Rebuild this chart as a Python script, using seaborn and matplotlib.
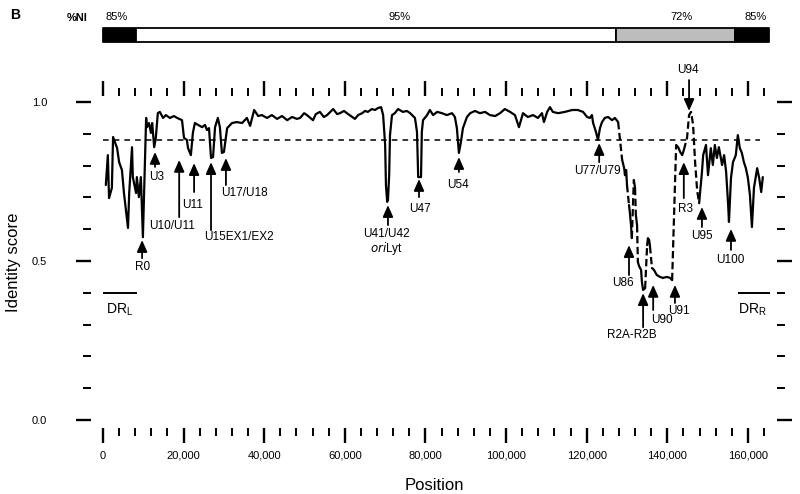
import matplotlib
matplotlib.use("Agg")
import matplotlib.pyplot as plt
import seaborn as sns
import pandas as pd
from matplotlib.ticker import MultipleLocator

# identity score along the genome
position = [
    700, 1200, 1500, 2200, 2500, 3500, 4000, 4700, 5200, 5700, 6200, 6500, 7200, 7400,
    8200, 8400, 8900, 9400, 9900, 10200, 10700, 10900, 11400, 11900, 12200, 12700, 13100,
    13600, 14100, 14900, 15600, 16600, 17600, 18400, 19600, 20100, 20800, 21100, 21800,
    22300, 22800, 23600, 24600, 25300, 25800, 26300, 26800, 27300, 27800, 28500, 29000,
    29500, 30000, 30800, 32000, 33200, 34500, 35700, 36500, 37500, 38500, 39400, 40700,
    41900, 43200, 44400, 45700, 46900, 48100, 48900, 49900, 50600, 52100, 52800, 53800,
    54800, 55600, 57100, 58100, 58800, 59800, 60500, 61500, 62500, 63300, 64300, 65000,
    65700, 66700, 67500, 68200, 69000, 69500, 70000, 70200, 70500, 70700, 71000, 71200,
    71700, 72400, 73200, 74400, 75400, 76200, 77400, 77900, 78200, 78900, 79100, 79400,
    80400, 81100, 81900, 82900, 84100, 85300, 86600, 87300, 87800, 88300, 88800, 89300,
    90300, 91100, 92300, 93500, 94800, 96000, 97300, 98500, 99700, 101000, 102200,
    103200, 104200, 105400, 106700, 107900, 108900, 109400, 110200, 110900, 111600,
    112900, 114600, 116400, 117800, 119100, 120100, 120800, 121300, 121600, 122300,
    122800, 123300, 123800, 124500, 125300, 126300, 127000, 127800, 128800, 129300,
    129500, 129800, 130000, 130500, 130700, 131000, 131200, 131700, 132000, 132200,
    132500, 132700, 133000, 133500, 133700, 134000, 134500, 135000, 135200, 135500,
    135700, 136200, 136700, 137400, 138200, 138900, 139900, 140700, 141200, 142200,
    142700, 143200, 143700, 144100, 144900, 145400, 145900, 146400, 146900, 147400,
    147900, 148600, 148900, 149600, 150100, 150800, 151300, 151800, 152300, 152800,
    153600, 154100, 154600, 155100, 155300, 155800, 156300, 157000, 157500, 158000,
    158500, 159000, 159500, 160000, 160500, 161000, 161500, 162300, 162800, 163300, 163700,
]
identity = [
    0.739, 0.833, 0.698, 0.730, 0.890, 0.855, 0.811, 0.786, 0.714, 0.660, 0.604, 0.714, 0.858, 0.764,
    0.714, 0.764, 0.701, 0.764, 0.575, 0.714, 0.950, 0.921, 0.934, 0.903, 0.934, 0.858, 0.887,
    0.965, 0.969, 0.950, 0.959, 0.950, 0.956, 0.950, 0.943, 0.887, 0.881, 0.855, 0.833,
    0.903, 0.934, 0.928, 0.921, 0.928, 0.912, 0.918, 0.824, 0.827, 0.921, 0.950, 0.921,
    0.840, 0.843, 0.918, 0.934, 0.937, 0.934, 0.950, 0.925, 0.975, 0.956, 0.959, 0.950,
    0.959, 0.947, 0.956, 0.943, 0.953, 0.947, 0.950, 0.965, 0.959, 0.943, 0.962, 0.969,
    0.953, 0.959, 0.978, 0.962, 0.965, 0.972, 0.965, 0.956, 0.947, 0.959, 0.965, 0.972,
    0.969, 0.978, 0.975, 0.981, 0.984, 0.959, 0.865, 0.739, 0.686, 0.692, 0.770, 0.896,
    0.959, 0.965, 0.978, 0.969, 0.972, 0.965, 0.950, 0.906, 0.764, 0.764, 0.906, 0.943,
    0.959, 0.975, 0.959, 0.969, 0.965, 0.959, 0.965, 0.953, 0.918, 0.840, 0.874, 0.918,
    0.953, 0.965, 0.972, 0.965, 0.969, 0.959, 0.956, 0.965, 0.978, 0.969, 0.959,
    0.921, 0.965, 0.953, 0.959, 0.950, 0.965, 0.937, 0.969, 0.984, 0.969,
    0.965, 0.969, 0.975, 0.975, 0.969, 0.953, 0.950, 0.959, 0.934, 0.906,
    0.881, 0.918, 0.937, 0.950, 0.953, 0.943, 0.950, 0.937, 0.818, 0.792,
    0.770, 0.786, 0.739, 0.676, 0.654, 0.613, 0.572, 0.755, 0.730, 0.645,
    0.613, 0.497, 0.484, 0.472, 0.434, 0.409, 0.415, 0.550, 0.572, 0.566,
    0.547, 0.478, 0.472, 0.456, 0.450, 0.447, 0.450, 0.447, 0.440, 0.865,
    0.858, 0.843, 0.833, 0.849, 0.887, 0.959, 0.969, 0.928, 0.811, 0.723,
    0.682, 0.780, 0.833, 0.865, 0.770, 0.855, 0.802, 0.865, 0.824, 0.858,
    0.802, 0.833, 0.780, 0.676, 0.623, 0.761, 0.811, 0.833, 0.896, 0.855,
    0.840, 0.811, 0.792, 0.761, 0.708, 0.607, 0.730, 0.792, 0.761, 0.717, 0.764,
]

# stretches drawn dashed
dashed_spans = [(127800, 128800), (130000, 130500), (131200, 131700), (132000, 132200),
                (132500, 132700), (134500, 135000), (135700, 136200), (141200, 142200),
                (144100, 147900)]

threshold = 0.88
threshold_end = 163000

# %NI bar on top
ni_start = [0, 8200, 127300, 156800]
ni_end = [8200, 127300, 156800, 165300]
ni_color = ["black", "white", "#bdbdbd", "black"]
ni_text = ["85%", "95%", "72%", "85%"]
ni_text_pos = [3500, 73700, 143600, 162000]

# direct repeats
dr_start = [0, 157500]
dr_end = [8400, 165500]
dr_level = 0.40
dr_text = [r"DR$_\mathrm{L}$", r"DR$_\mathrm{R}$"]
dr_text_pos = [4200, 161000]

# arrows: label, x, tip, tail, label x, label y
arrow_label = ["R0", "U3", "U10/U11", "U11", "U15EX1/EX2", "U17/U18", "U41/U42", "U47",
               "U54", "U77/U79", "U94", "R3", "U95", "U100", "U86", "R2A-R2B", "U90", "U91"]
arrow_x = [9700, 12900, 18900, 22600, 26800, 30500, 70700, 78400, 88300, 123100, 145400,
           144100, 148600, 155800, 130500, 134000, 136500, 141900]
arrow_tip = [0.566, 0.843, 0.818, 0.808, 0.811, 0.824, 0.676, 0.758, 0.827, 0.871, 0.972,
             0.811, 0.670, 0.601, 0.550, 0.399, 0.425, 0.425]
arrow_tail = [0.509, 0.796, 0.638, 0.717, 0.597, 0.739, 0.613, 0.701, 0.780, 0.811, 1.069,
              0.698, 0.607, 0.535, 0.456, 0.292, 0.346, 0.368]
label_x = [9900, 13400, 17100, 22300, 33700, 35200, 70200, 78600, 88100, 122600, 145100,
           144400, 148600, 155600, 129000, 131200, 138700, 142900]
label_y = [0.481, 0.764, 0.610, 0.676, 0.575, 0.714, 0.585, 0.664, 0.739, 0.783, 1.101,
           0.664, 0.579, 0.503, 0.431, 0.267, 0.314, 0.343]

sns.set_theme(style="white")
plt.rcParams["font.family"] = ["Liberation Sans Narrow", "Liberation Sans", "DejaVu Sans"]
plt.rcParams["mathtext.fontset"] = "custom"
plt.rcParams["mathtext.rm"] = "Liberation Sans"
plt.rcParams["mathtext.it"] = "Liberation Sans Narrow:italic"
for key in ["text.color", "axes.labelcolor", "xtick.color", "ytick.color"]:
    plt.rcParams[key] = "black"

W, H = 800, 494
fig = plt.figure(figsize=(8, 4.94), dpi=100)
ax = fig.add_axes([91 / W, 1 - 428 / H, 686 / W, 332 / H])
xlim = (-2977, 167219)
ax.set_xlim(*xlim)
ax.set_ylim(-0.025, 1.019)

# split the curve into solid / dashed runs
df = pd.DataFrame({"position": position, "identity": identity})
def is_dashed(a, b):
    return any(s <= a and b <= e for s, e in dashed_spans)

runs = []
cur = [0]
cur_style = is_dashed(position[0], position[1])
for i in range(1, len(position)):
    style = is_dashed(position[i - 1], position[i])
    if style != cur_style:
        runs.append((cur_style, cur))
        cur = [i - 1]
        cur_style = style
    cur.append(i)
runs.append((cur_style, cur))

for dashed, idx in runs:
    seg = df.iloc[idx]
    sns.lineplot(data=seg, x="position", y="identity", ax=ax, color="black",
                 lw=1.6, sort=False, estimator=None,
                 linestyle=(0, (3.3, 1.6)) if dashed else "-")

ax.hlines(threshold, 0, threshold_end, colors="black", lw=1.1, linestyles=(0, (3.7, 3.3)))
ax.hlines([dr_level] * 2, dr_start, dr_end, colors="black", lw=1.4)
for t, x in zip(dr_text, dr_text_pos):
    ax.text(x, dr_level - 0.054, t, ha="center", va="center", fontsize=10,
            family="Liberation Sans")

for lab, x, tip, tail, lx, ly in zip(arrow_label, arrow_x, arrow_tip, arrow_tail, label_x, label_y):
    ax.annotate("", xy=(x, tip), xytext=(x, tail), annotation_clip=False,
                arrowprops=dict(arrowstyle="-|>,head_length=0.5,head_width=0.22",
                                color="black", lw=1.3, shrinkA=0, shrinkB=0,
                                mutation_scale=14))
    ax.text(lx, ly, lab, ha="center", va="center", fontsize=8.5, clip_on=False)
ax.text(70200, 0.538, r"$\mathit{ori}$Lyt", ha="center", va="center", fontsize=8.5)

# axes ticks drawn on all four sides, no frame
sns.despine(ax=ax, left=True, bottom=True)
ax.spines["top"].set_visible(False)
ax.spines["right"].set_visible(False)
ax.xaxis.set_major_locator(MultipleLocator(20000))
ax.xaxis.set_minor_locator(MultipleLocator(4000))
ax.yaxis.set_major_locator(MultipleLocator(0.5))
ax.yaxis.set_minor_locator(MultipleLocator(0.1))
ax.tick_params(which="both", direction="out", top=True, right=True, bottom=True, left=True,
               labeltop=False, labelright=False, color="black")
ax.tick_params(which="major", length=10.5, width=1.7)
ax.tick_params(which="minor", length=5.5, width=1.4)
ax.tick_params(axis="x", which="major", pad=6, labelsize=8)
ax.tick_params(axis="y", which="major", pad=21, labelsize=8)
ax.set_xticks(range(0, 160001, 20000))
ax.set_xticklabels(["0"] + [f"{v:,}" for v in range(20000, 160001, 20000)])
ax.set_yticks([0.0, 0.5, 1.0])
ax.set_yticklabels(["0.0", "0.5", "1.0"])
ax.grid(False)
ax.set_xlabel("Position", fontsize=12, family="Liberation Sans", labelpad=12)
ax.set_ylabel("Identity score", fontsize=12, family="Liberation Sans", labelpad=8)

# %NI bar
ax_bar = fig.add_axes([91 / W, 1 - 42 / H, 686 / W, 14 / H])
ax_bar.set_xlim(*xlim)
ax_bar.set_ylim(0, 1)
for s, e, c in zip(ni_start, ni_end, ni_color):
    ax_bar.broken_barh([(s, e - s)], (0, 1), facecolors=c, edgecolors="black", lw=1.3,
                       clip_on=False)
ax_bar.axis("off")
for t, x in zip(ni_text, ni_text_pos):
    ax_bar.text(x, 1.75, t, ha="center", va="center", fontsize=8, family="Liberation Sans")

fig.text(15 / W, 1 - 15 / H, "B", fontsize=10, fontweight="bold", family="Liberation Sans",
         ha="center", va="center")
fig.text(77 / W, 1 - 18 / H, "%NI", fontsize=8, fontweight="bold", family="Liberation Sans",
         ha="center", va="center")

fig.savefig("out.png", dpi=100)
